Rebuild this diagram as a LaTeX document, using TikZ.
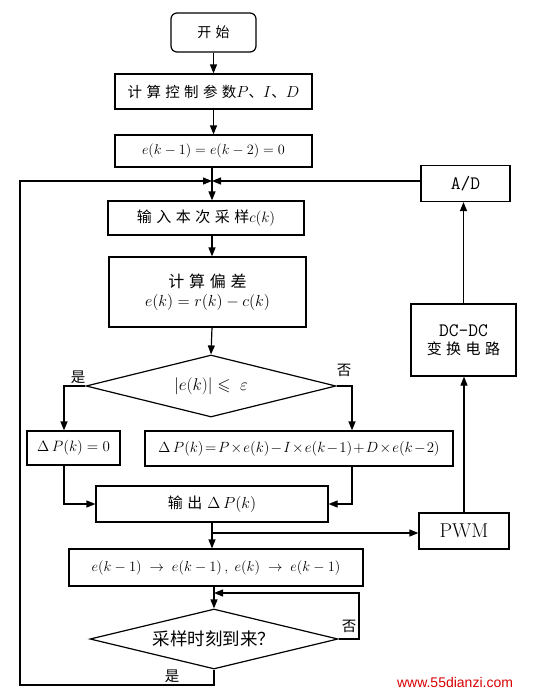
\RequirePackage{fix-cm}
\documentclass[tikz,border=0pt]{standalone}
\usepackage{amsmath, amssymb}
\usepackage{fontspec}
\newfontfamily\cjk{Noto Sans CJK SC}
\newfontfamily\cjkwide{Noto Sans CJK SC}[LetterSpace=30]
\newfontfamily\webfont{Liberation Sans}
\newcommand\mth[2][14]{{\fontsize{#1}{16}\selectfont$#2$}}
\newcommand\fs[1]{\fontsize{#1}{1.2\dimexpr#1pt\relax}\selectfont}
\usetikzlibrary{shapes.geometric}
\usetikzlibrary{arrows.meta}

\begin{document}
\begin{tikzpicture}[x=1pt, y=-1pt, line width=1.2pt,
  every node/.style={font=\cjk\fs{12.5}},
  box/.style={draw, inner sep=0pt},
  test/.style={draw, diamond, aspect=4, inner sep=0pt},
  arr/.style={-{Triangle[length=9pt,width=7pt]}}]
\useasboundingbox (0,0) rectangle (538,694);

% Main column
\node[box, rounded corners=6pt, minimum width=85, minimum height=39, font=\cjkwide\fs{14}] (start) at (213.5,32.5) {开始};
\node[box, minimum width=197, minimum height=35, font=\cjkwide\fs{14.5}] (param) at (213.5,91.5) {计算控制参数\mth[16]{P}{\cjk 、}\mth[16]{I}{\cjk 、}\mth[16]{D}};
\node[box, minimum width=197, minimum height=32] (init) at (213.5,151) {\mth[14.2]{e(k-1)=e(k-2)=0}};
\coordinate (join) at (212,181);
\node[box, minimum width=196, minimum height=34, font=\cjkwide\fs{15}] (input) at (206,218) {输入本次采样\mth[15]{c(k)}};
\node[box, minimum width=197, minimum height=70, align=center, font=\cjkwide\fs{16}] (err) at (207.5,292) {计算偏差\\\mth[16]{e(k)=r(k)-c(k)}};
\node[test, minimum width=250, minimum height=62] (check) at (211,386) {\mth[17]{|e(k)|\leqslant\;\varepsilon}};
\node[box, minimum width=93, minimum height=34] (zero) at (73.5,448) {\mth[15]{\Delta\,P(k)=0}};
\node[box, minimum width=308, minimum height=35] (incr) at (299,448.5) {\mth[14.8]{\medmuskip=1.5mu \thickmuskip=2mu \Delta\,P(k)=P\times e(k)-I\times e(k-1)+D\times e(k-2)}};
\node[box, minimum width=232, minimum height=36, font=\cjkwide\fs{15}] (out) at (212,504) {输出\hspace{5pt}\mth[16]{\Delta\,P(k)}};
\node[box, minimum width=294, minimum height=37] (shift) at (216,567.5) {\mth[14.4]{e(k-1)\;\rightarrow\; e(k-1)\,,\; e(k)\;\rightarrow\; e(k-1)}};
\node[test, minimum width=248, minimum height=60, font=\cjk\fs{17.5}] (wait) at (214,639) {采样时刻到来？};

% Feedback column
\node[box, minimum width=90, minimum height=36] (pwm) at (464,531) {\rmfamily\fs{20}PWM};
\node[box, minimum width=105, minimum height=72, align=center, font=\cjkwide\fs{15}] (dcdc) at (463.5,340) {{\ttfamily\fs{19}DC-DC}\\变换电路};
\node[box, minimum width=89, minimum height=36] (adc) at (465.5,183.5) {\ttfamily\fs{19}A/D};

\coordinate (tap) at (212,533);
\coordinate (back) at (20,685);
\coordinate (loop) at (359,593);

% Connectors
\draw[arr] (start) -- (param);
\draw[arr] (param) -- (init);
\draw[arr] (init.south -| join) -- (input.north -| join);
\draw[arr] (input.south -| join) -- (err.north -| join);
\draw[arr] (err.south -| join) -- (check.north);
\draw[arr] (check.west) -| ([xshift=-9.5]zero.north);
\draw[arr] (check.east) -| ([xshift=53]incr.north);
\draw[arr] ([xshift=-9.5]zero.south) |- (out.west);
\draw[arr] ([xshift=53]incr.south) |- (out.east);
\draw[arr] (out.south) -- (shift.north -| out.south);
\draw[arr] (tap) -- (tap -| pwm.west);
\draw[arr] (pwm.north) -- (dcdc.south -| pwm.north);
\draw[arr] (dcdc.north) -- (adc.south -| dcdc.north);
\draw[arr] (join -| adc.west) -- (join);
\draw[arr] (shift.south -| wait.north) -- (wait.north);
\draw[arr] (wait.east) -| (loop) -- (wait.north |- loop);
\draw[arr] (wait.south) |- (back) |- (join);

% Labels
\node[font=\cjk\fs{14.5}] at (78,377) {是};
\node[font=\cjk\fs{14.5}] at (344,370) {否};
\node[font=\cjk\fs{14.5}] at (349,626) {否};
\node[font=\cjk\fs{14.5}] at (172,676) {是};
\node[font=\webfont\fs{14}, text=red!85!black] at (455,682) {www.55dianzi.com};
\end{tikzpicture}
\end{document}
